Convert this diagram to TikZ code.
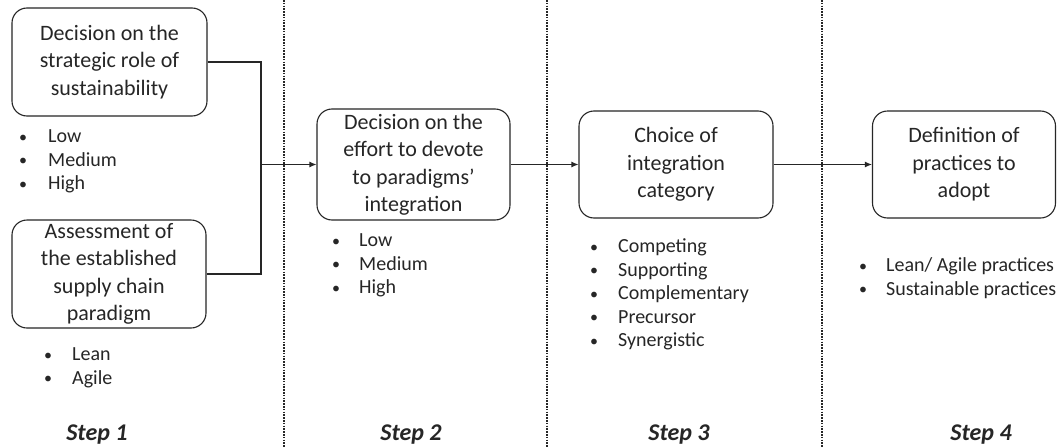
\documentclass[tikz,border=0pt]{standalone}
\usepackage{fontspec}
\setmainfont{Carlito}
\usetikzlibrary{arrows.meta}
\definecolor{ink}{HTML}{262626}
\newcommand{\bul}{\raisebox{0.5pt}{\scalebox{0.8}{\textbullet}}}
\begin{document}
\begin{tikzpicture}[x=1pt,y=-1pt,
  box/.style={draw=ink, line width=1.1pt, rounded corners=15pt, align=center, inner sep=0pt,
    text=ink, font=\fontsize{22}{27.5}\selectfont},
  sep/.style={draw=ink, line width=1.6pt, dash pattern=on 1.6pt off 1.2pt},
  conn/.style={draw=ink, line width=1.1pt},
  arr/.style={conn, -{Latex[length=7pt,width=6pt]}},
  blist/.style={anchor=base west, inner sep=0pt, text=ink, font=\fontsize{20}{23.5}\selectfont},
  steplab/.style={anchor=base, inner sep=0pt, text=ink, font=\fontsize{24}{26}\selectfont\bfseries\itshape}]
\useasboundingbox (0,0) rectangle (1057,447);
\fill[white] (0,0) rectangle (1057,447);

% separators
\draw[sep] (284,0) -- (284,447);
\draw[sep] (547,0) -- (547,447);
\draw[sep] (822,0) -- (822,447);

% boxes
\node[box, minimum width=195pt, minimum height=108pt] (b1) at (109.5,62) {Decision on the\\strategic role of\\sustainability};
\node[box, minimum width=194pt, minimum height=108pt] (b2) at (109,274) {Assessment of\\the established\\supply chain\\paradigm};
\node[box, minimum width=193pt, minimum height=111pt] (b3) at (413.5,164.5) {Decision on the\\effort to devote\\to paradigms'\\integration};
\node[box, minimum width=194pt, minimum height=107pt] (b4) at (676,164.5) {Choice of\\integration\\category};
\node[box, minimum width=183pt, minimum height=107pt] (b5) at (964,164.5) {Definition of\\practices to\\adopt};

% connectors
\coordinate (jn) at (261,164.5);
\draw[conn] (b1.east) -| (jn) |- (b2.east);
\draw[arr] (jn) -- (b3.west);
\draw[arr] (b3.east) -- (b4.west);
\draw[arr] (b4.east) -- (b5.west);

% bullet lists
\node[blist] (l1) at (19,142.5) {\begin{tabular}[t]{@{}p{29pt}@{}l@{}}\bul & Low\\ \bul & Medium\\ \bul & High\end{tabular}};
\node[blist] (l2) at (44,360.5) {\begin{tabular}[t]{@{}p{28pt}@{}l@{}}\bul & Lean\\ \bul & Agile\end{tabular}};
\node[blist] (l3) at (332,246.5) {\begin{tabular}[t]{@{}p{27pt}@{}l@{}}\bul & Low\\ \bul & Medium\\ \bul & High\end{tabular}};
\node[blist] (l4) at (590,252.5) {\begin{tabular}[t]{@{}p{28pt}@{}l@{}}\bul & Competing\\ \bul & Supporting\\ \bul & Complementary\\ \bul & Precursor\\ \bul & Synergistic\end{tabular}};
\node[blist] (l5) at (859,271.5) {\begin{tabular}[t]{@{}p{27pt}@{}l@{}}\bul & Lean/ Agile practices\\ \bul & Sustainable practices\end{tabular}};

% step labels
\node[steplab] (s1) at (97,440) {Step 1};
\node[steplab] (s2) at (411,440) {Step 2};
\node[steplab] (s3) at (679,440) {Step 3};
\node[steplab] (s4) at (981,440) {Step 4};
\end{tikzpicture}
\end{document}
